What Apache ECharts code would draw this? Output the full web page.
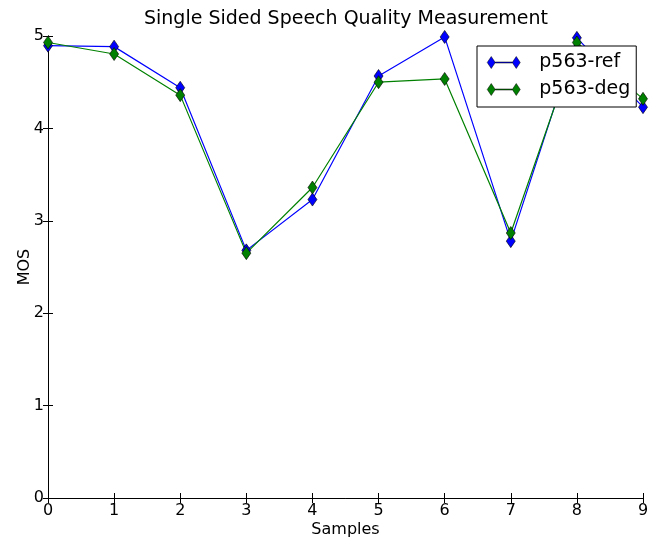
<!DOCTYPE html>
<html>
<head>
<meta charset="utf-8">
<script src="https://cdn.jsdelivr.net/npm/echarts@6/dist/echarts.min.js"></script>
<style>
  html, body { margin: 0; padding: 0; background: #fff; }
  #chart { width: 649px; height: 541px; }
</style>
</head>
<body>
<div id="chart"></div>
<script>
// Sample indices and the MOS score for each of the two p563 runs
const samples = [0, 1, 2, 3, 4, 5, 6, 7, 8, 9];
const mosRef = [4.895, 4.885, 4.44, 2.68, 3.23, 4.567, 4.99, 2.78, 4.98, 4.23];
const mosDeg = [4.93, 4.805, 4.36, 2.65, 3.36, 4.50, 4.535, 2.868, 4.93, 4.32];
const xTicks = [0, 1, 2, 3, 4, 5, 6, 7, 8, 9];
const yTicks = [0, 1, 2, 3, 4, 5];

const FONT = 'DejaVu Sans';
const pairs = (ys) => samples.map((x, i) => [x, ys[i]]);

// Legend glyph: a short line with a thin diamond on each end
const legendIcon = 'path://M0,6L4,0L8,6L4,12ZM25,6L29,0L33,6L29,12ZM8,5.5L25,5.5L25,6.5L8,6.5Z';

const frameAxis = {
  axisLine: { show: true, lineStyle: { color: '#000', width: 1 } },
  axisTick: { show: true, inside: true, length: 5, lineStyle: { color: '#000', width: 1 } },
  splitLine: { show: false }
};

const chart = echarts.init(document.getElementById('chart'), null, { renderer: 'canvas' });
chart.setOption({
  animation: false,
  backgroundColor: '#fff',
  textStyle: { fontFamily: FONT },
  title: {
    text: 'Single Sided Speech Quality Measurement',
    left: 346, top: 10, textAlign: 'center', padding: 0,
    textStyle: { fontFamily: FONT, fontSize: 19, fontWeight: 'normal', color: '#000' }
  },
  grid: { left: 48, right: 6, top: 36, bottom: 43, containLabel: false, outerBoundsMode: 'none' },
  legend: {
    orient: 'vertical',
    left: 477, top: 46,
    width: 157,
    padding: [7, 6, 8, 10],
    itemGap: 8,
    itemWidth: 33, itemHeight: 12,
    backgroundColor: '#fff',
    borderColor: '#000', borderWidth: 1, borderRadius: 0,
    icon: legendIcon,
    itemStyle: { borderColor: '#000', borderWidth: 0.5 },
    textStyle: { fontFamily: FONT, fontSize: 19, color: '#000', padding: [0, 0, 0, 14] },
    data: ['p563-ref', 'p563-deg']
  },
  xAxis: [
    Object.assign({
      type: 'value', min: xTicks[0], max: xTicks[xTicks.length - 1], interval: 1,
      position: 'bottom',
      name: 'Samples', nameLocation: 'middle', nameGap: 24,
      nameMoveOverlap: false,
      nameTextStyle: { fontFamily: FONT, fontSize: 16, color: '#000' },
      axisLabel: { show: true, margin: 5, color: '#000', fontFamily: FONT, fontSize: 16 }
    }, frameAxis),
    Object.assign({
      type: 'value', min: xTicks[0], max: xTicks[xTicks.length - 1], interval: 1,
      position: 'top', axisLabel: { show: false }
    }, frameAxis)
  ],
  yAxis: [
    Object.assign({
      type: 'value', min: yTicks[0], max: yTicks[yTicks.length - 1], interval: 1,
      position: 'left',
      name: 'MOS', nameLocation: 'middle', nameGap: 15, nameRotate: 90,
      nameMoveOverlap: false,
      nameTextStyle: { fontFamily: FONT, fontSize: 16, color: '#000' },
      axisLabel: { show: true, margin: 4, color: '#000', fontFamily: FONT, fontSize: 16 }
    }, frameAxis),
    Object.assign({
      type: 'value', min: yTicks[0], max: yTicks[yTicks.length - 1], interval: 1,
      position: 'right', axisLabel: { show: false }
    }, frameAxis)
  ],
  series: [
    {
      name: 'p563-ref', type: 'line', xAxisIndex: 0, yAxisIndex: 0,
      data: pairs(mosRef),
      symbol: 'diamond', symbolSize: [9, 13], showAllSymbol: true,
      lineStyle: { color: '#0000ff', width: 1.2 },
      itemStyle: { color: '#0000ff', borderColor: '#000', borderWidth: 0.6 },
      emphasis: { disabled: true }
    },
    {
      name: 'p563-deg', type: 'line', xAxisIndex: 0, yAxisIndex: 0,
      data: pairs(mosDeg),
      symbol: 'diamond', symbolSize: [9, 13], showAllSymbol: true,
      lineStyle: { color: '#008000', width: 1.2 },
      itemStyle: { color: '#008000', borderColor: '#000', borderWidth: 0.6 },
      emphasis: { disabled: true }
    }
  ]
});
</script>
</body>
</html>
